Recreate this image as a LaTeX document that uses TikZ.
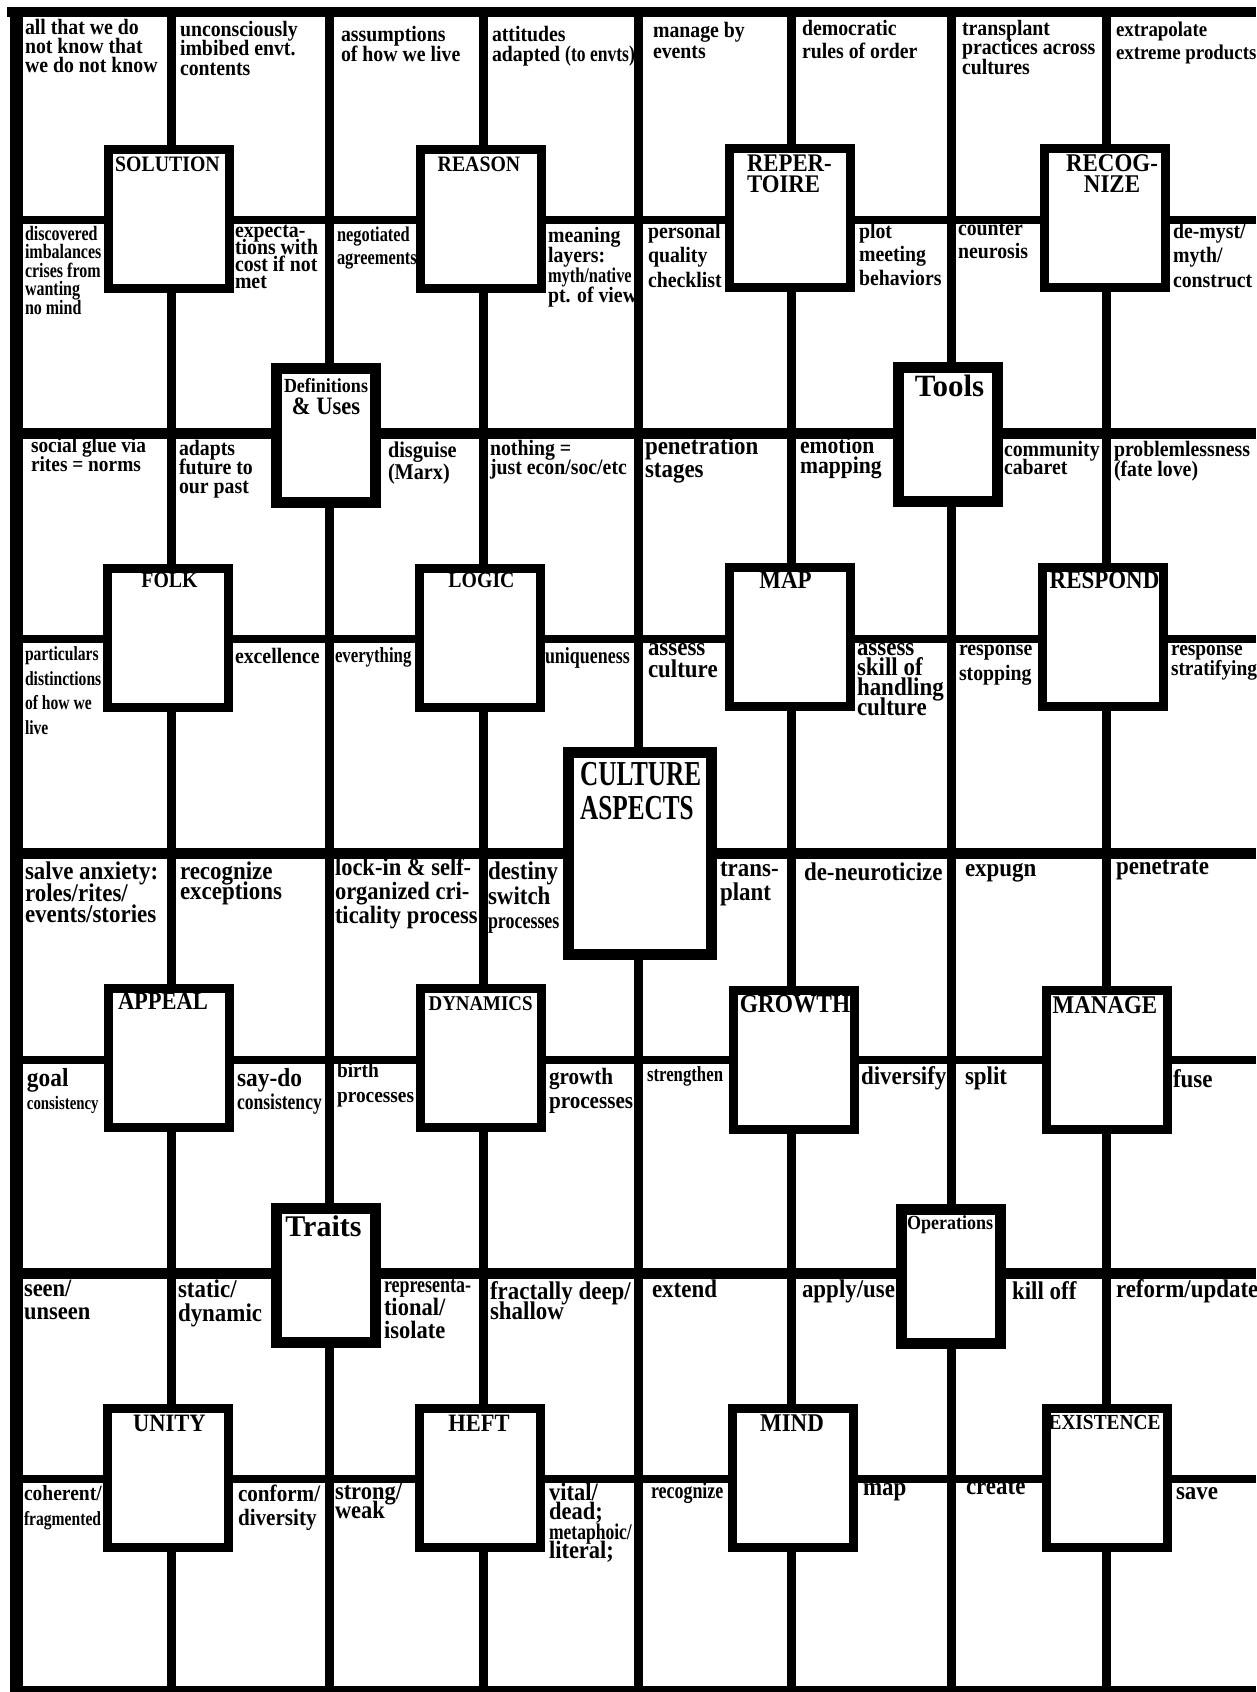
\documentclass[tikz,border=0pt]{standalone}
\usepackage{fontspec}
\setmainfont{Liberation Serif}
\newfontfamily\fN{Liberation Serif}[FakeStretch=0.9]
\newfontfamily\fC{Liberation Serif}[FakeStretch=0.78]
\newfontfamily\fX{Liberation Serif}[FakeStretch=0.72]
\newfontfamily\fW{Liberation Serif}
\usetikzlibrary{calc}
\tikzset{
  T/.style 2 args={anchor=north west, inner sep=0pt, outer sep=0pt, align=left,
    font=\fN\bfseries\fontsize{#1}{#2}\selectfont},
  C/.style 2 args={anchor=north west, inner sep=0pt, outer sep=0pt, align=left,
    font=\fC\bfseries\fontsize{#1}{#2}\selectfont},
  BL/.style={anchor=north, inner sep=0pt, outer sep=0pt, align=center,
    font=\fN\bfseries\fontsize{#1}{21}\selectfont},
  bigbox/.style={rectangle, draw=black, fill=white, line width=9pt, inner sep=0pt,
    minimum width=121pt, minimum height=139pt},
  smallbox/.style={rectangle, draw=black, fill=white, line width=11pt, inner sep=0pt,
    minimum width=99pt, minimum height=134pt},
  centrebox/.style={rectangle, draw=black, fill=white, line width=11pt, inner sep=0pt,
    minimum width=143pt, minimum height=202pt},
  vline/.style={line width=9pt},
}
\begin{document}
\lineskiplimit=-100pt\relax
\lineskip=0pt\relax
\begin{tikzpicture}[x=1pt,y=-1pt]
\useasboundingbox (0,0) rectangle (1256,1692);
\fill[white] (0,0) rectangle (1256,1692);
\begin{scope}
\clip (0,0) rectangle (1256,1692);
% frame
\fill[black] (7,7) rectangle (1256,17);
\fill[black] (10,7) rectangle (23,1692);
\fill[black] (10,1686) rectangle (1256,1692);
% grid
\foreach \x in {171,329,483,638,791,951,1106}
  \draw[vline] (\x,17) -- (\x,1686);
\foreach \y/\w in {220/8pt,433/11pt,639/8pt,853/11pt,1060/8pt,1273/11pt,1479/8pt}
  \draw[line width=\w] (23,\y) -- (1256,\y);
\end{scope}

% concept boxes
\node[bigbox] (solution) at (169,219) {};
\node[bigbox] (reason) at (480.5,219) {};
\node[bigbox] (repertoire) at (790,217.5) {};
\node[bigbox] (recognize) at (1104.5,217.5) {};
\node[bigbox] (folk) at (168,637.5) {};
\node[bigbox] (logic) at (479.5,637.5) {};
\node[bigbox] (map) at (789.5,636.5) {};
\node[bigbox] (respond) at (1103,636.5) {};
\node[bigbox] (appeal) at (168.5,1058) {};
\node[bigbox] (dynamics) at (480.5,1058) {};
\node[bigbox] (growth) at (793.5,1060) {};
\node[bigbox] (manage) at (1107,1060) {};
\node[bigbox] (unity) at (168,1477.5) {};
\node[bigbox] (heft) at (479.5,1477.5) {};
\node[bigbox] (mind) at (793,1478) {};
\node[bigbox] (existence) at (1106.5,1478) {};
\node[smallbox] (defs) at (325.5,435.5) {};
\node[smallbox] (tools) at (948,434.5) {};
\node[smallbox] (traits) at (325.5,1275) {};
\node[smallbox] (operations) at (950.5,1276) {};
\node[centrebox] (culture) at (640,853.5) {};

% box labels
\node[BL=22] (solutionL) at (167.5,157) {SOLUTION};
\node[BL=22] (reasonL) at (479,157) {REASON};
\node[BL=25.3, anchor=north west, align=left] (repertoireL) at (747,155) {REPER-\\TOIRE};
\node[BL=25.5] (recognizeL) at (1112,155) {RECOG-\\NIZE};
\node[BL=22] (folkL) at (169.5,573) {FOLK};
\node[BL=22] (logicL) at (481.5,573) {LOGIC};
\node[BL=25.5] (mapL) at (785.5,572) {MAP};
\node[BL=25.5] (respondL) at (1104.5,572) {RESPOND};
\node[BL=25] (appealL) at (163,993) {APPEAL};
\node[BL=21] (dynamicsL) at (480.6,997) {DYNAMICS};
\node[BL=26] (growthL) at (795,995) {GROWTH};
\node[BL=25.5] (manageL) at (1105,997) {MANAGE};
\node[BL=25] (unityL) at (169.5,1415) {UNITY};
\node[BL=25] (heftL) at (479,1415) {HEFT};
\node[BL=25.5] (mindL) at (792,1415) {MIND};
\node[BL=21.5] (existenceL) at (1104.5,1415) {EXISTENCE};
\node[anchor=north, inner sep=0pt, align=center,
  font=\fN\bfseries\fontsize{20}{22}\selectfont] (defsL) at (326,378)
  {Definitions\\{\fontsize{25}{22}\selectfont\& Uses}};
\node[anchor=north, inner sep=0pt, font=\fW\bfseries\fontsize{31}{31}\selectfont] (toolsL) at (949.5,375) {Tools};
\node[anchor=north, inner sep=0pt, font=\fW\bfseries\fontsize{30}{30}\selectfont] (traitsL) at (323.5,1215) {Traits};
\node[anchor=north, inner sep=0pt, font=\fN\bfseries\fontsize{20}{20}\selectfont] (operationsL) at (950,1215) {Operations};
\node[anchor=north west, inner sep=0pt, align=left,
  font=\fX\bfseries\fontsize{35}{34}\selectfont] (cultureL) at (580,762) {CULTURE\\ASPECTS};

% row band 1
\node[T={22}{19}] (t11) at (25,19) {all that we do\\not know that\\we do not know};
\node[T={22}{19.5}] (t12) at (180,21) {unconsciously\\imbibed envt.\\contents};
\node[T={22}{20}] (t13) at (341,26) {assumptions\\of how we live};
\node[T={22}{20}] (t14) at (492,26) {attitudes\\adapted {\fC\fontsize{22.5}{20}\selectfont(to envts)}};
\node[T={22}{21}] (t15) at (653,22) {manage by\\events};
\node[T={22}{23}] (t16) at (802,20) {democratic\\rules of order};
\node[T={22}{19.5}] (t17) at (962,20) {transplant\\practices across\\cultures};
\node[T={21}{23}] (t18) at (1116,22) {extrapolate\\extreme products};

% row band 2
\node[C={20.5}{18.5}] (t21) at (25,226) {discovered\\imbalances\\crises from\\wanting\\no mind};
\node[T={22}{17}] (t22) at (235,225) {expecta-\\tions with\\cost if not\\met};
\node[C={21}{23}] (t23) at (337,227) {negotiated\\agreements};
\node[T={22}{20}] (t24) at (548,227) {meaning\\layers:\\{\fC\fontsize{21}{20}\selectfont myth/native}\\pt. of view};
\node[T={22}{24.5}] (t25) at (648,223) {personal\\quality\\checklist};
\node[T={22}{23.5}] (t26) at (859,223) {plot\\meeting\\behaviors};
\node[T={22}{23}] (t27) at (958,223) {counter\\neurosis};
\node[T={22}{24.5}] (t28) at (1173,223) {de-myst/\\myth/\\construct};

% row band 3
\node[T={21.5}{18.5}] (t31) at (31,438) {social glue via\\rites = norms};
\node[T={22}{19}] (t32) at (179,440) {adapts\\future to\\our past};
\node[T={22.5}{22}] (t33) at (388,442) {disguise\\(Marx)};
\node[T={22}{19}] (t34) at (490,440) {nothing =\\just econ/soc/etc};
\node[T={25.5}{23}] (t35) at (645,437) {penetration\\stages};
\node[T={24}{20}] (t36) at (800,437) {emotion\\mapping};
\node[T={22}{18}] (t37) at (1004,441) {community\\cabaret};
\node[T={22}{20}] (t38) at (1114,441) {problemlessness\\(fate love)};

% row band 4
\node[C={20}{24.5}] (t41) at (25,647) {particulars\\distinctions\\of how we\\live};
\node[T={22}{20}] (t42) at (235,648) {excellence};
\node[C={21.5}{20}] (t43) at (335,648) {everything};
\node[C={23}{20}] (t44) at (545,648) {uniqueness};
\node[T={25.5}{22}] (t45) at (648,643) {assess\\culture};
\node[T={25.5}{20}] (t46) at (857,643) {assess\\skill of\\handling\\culture};
\node[T={22}{25}] (t47) at (959,645) {response\\stopping};
\node[T={21.5}{20}] (t48) at (1171,645) {response\\stratifying};

% row band 5
\node[T={25.5}{21.5}] (t51) at (25,862) {salve anxiety:\\roles/rites/\\events/stories};
\node[T={25.5}{19.5}] (t52) at (180,862) {recognize\\exceptions};
\node[T={25}{24}] (t53) at (335,858) {lock-in \& self-\\organized cri-\\ticality process};
\node[T={25.5}{24.5}] (t54) at (488,862) {destiny\\switch\\{\fC\fontsize{23}{20}\selectfont processes}};
\node[T={25.5}{24}] (t55) at (720,862) {trans-\\plant};
\node[T={25.5}{22}] (t56) at (804,863) {de-neuroticize};
\node[T={25.5}{22}] (t57) at (965,863) {expugn};
\node[T={25.5}{22}] (t58) at (1116,860) {penetrate};

% row band 6
\node[T={26}{23}] (t61) at (27,1068) {goal\\{\fC\fontsize{19}{20}\selectfont consistency}};
\node[T={26}{23}] (t62) at (237,1068) {say-do\\{\fC\fontsize{22.5}{20}\selectfont consistency}};
\node[T={21.5}{25}] (t63) at (337,1063) {birth\\processes};
\node[T={23.5}{24.5}] (t64) at (549,1068) {growth\\processes};
\node[C={21.5}{20}] (t65) at (647,1067) {strengthen};
\node[T={25.5}{22}] (t66) at (861,1067) {diversify};
\node[T={25.5}{22}] (t67) at (965,1067) {split};
\node[T={25.5}{22}] (t68) at (1173,1070) {fuse};

% row band 7
\node[T={25}{23.5}] (t71) at (24,1280) {seen/\\unseen};
\node[T={25.5}{23.5}] (t72) at (178,1280) {static/\\dynamic};
\node[T={25}{23}] (t73) at (384,1280) {{\fC\fontsize{23}{20}\selectfont representa-}\\tional/\\isolate};
\node[T={25.5}{19.5}] (t74) at (490,1282) {fractally deep/\\shallow};
\node[T={25.5}{22}] (t75) at (652,1280) {extend};
\node[T={25.5}{22}] (t76) at (802,1280) {apply/use};
\node[T={25.5}{22}] (t77) at (1012,1282) {kill off};
\node[T={25.5}{22}] (t78) at (1116,1280) {reform/update};

% row band 8
\node[T={21.7}{25}] (t81) at (24,1485) {coherent/\\{\fC\fontsize{20}{20}\selectfont fragmented}};
\node[T={23.5}{24}] (t82) at (238,1485) {conform/\\diversity};
\node[T={25}{19.5}] (t83) at (335,1483) {strong/\\weak};
\node[T={25}{19.5}] (t84) at (549,1483) {vital/\\dead;\\{\fC\fontsize{22.5}{20}\selectfont metaphoic/}\\literal;};
\node[C={23}{20}] (t85) at (651,1483) {recognize};
\node[T={25.5}{22}] (t86) at (863,1483) {map};
\node[T={25.5}{22}] (t87) at (966,1480) {create};
\node[T={25.5}{22}] (t88) at (1176,1487) {save};
\end{tikzpicture}
\end{document}
